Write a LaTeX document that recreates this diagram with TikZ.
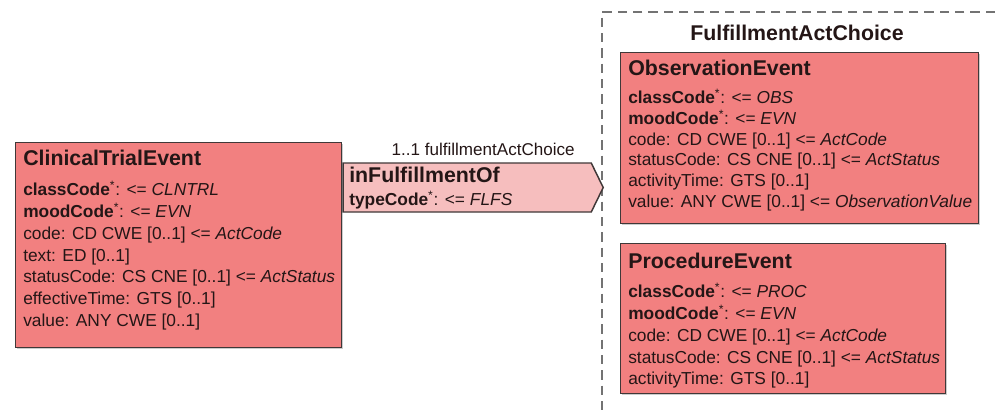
\documentclass[tikz,border=0pt]{standalone}
\usepackage{fontspec}
\setmainfont{Liberation Sans}
\usetikzlibrary{positioning}
\usetikzlibrary{shapes.symbols,shadows}
\definecolor{rimRed}{RGB}{242,128,128}
\definecolor{rimPink}{RGB}{246,190,190}
\definecolor{rimLine}{RGB}{64,56,56}
\definecolor{rimText}{RGB}{36,22,22}
\newcommand{\keyAttr}[2]{\textbf{#1}\textsuperscript{*}: <= \textit{#2}}
\tikzset{
    classBox/.style={draw=rimLine, fill=rimRed, line width=1.1pt, anchor=north west, inner sep=0pt,
		drop shadow={shadow xshift=0.8pt, shadow yshift=-0.8pt, fill=black!40}},
    classTitle/.style={anchor=base west, inner sep=0pt, text=rimText, font=\fontsize{16}{19}\selectfont\bfseries},
    classBody/.style={anchor=north west, inner sep=0pt, text=rimText, align=left, font=\fontsize{13}{16.4}\selectfont},
    linkShape/.style={shape=signal, signal to=east, signal pointer angle=128, draw=rimLine, fill=rimPink,
		line width=1.1pt, inner sep=0pt, anchor=west},
    groupFrame/.style={draw=black!55, line width=1.1pt, dash pattern=on 7pt off 4.5pt}
}
\begin{document}
\begin{tikzpicture}[x=0.75pt,y=-0.75pt]
	\useasboundingbox (0,0) rectangle (995,411);
	% choice group
	\coordinate (groupTop) at (995,12);
	\coordinate (groupCorner) at (602,12);
	\coordinate (groupFoot) at (602,411);
	\draw[groupFrame] (groupTop) -- (groupCorner) -- (groupFoot);
	\node[classTitle, anchor=base] (choiceTitle) at (797,40) {FulfillmentActChoice};
	% source class
	\node[classBox, minimum width=244.5pt, minimum height=153.75pt] (clinical) at (15,142) {};
	\node[classTitle] (clinicalTitle) at (23,165) {ClinicalTrialEvent};
	\node[classBody] (clinicalBody) at (23,181) {\keyAttr{classCode}{CLNTRL}\\
		\keyAttr{moodCode}{EVN}\\
		code: CD CWE [0..1] <= \textit{ActCode}\\
		text: ED [0..1]\\
		statusCode: CS CNE [0..1] <= \textit{ActStatus}\\
		effectiveTime: GTS [0..1]\\
		value: ANY CWE [0..1]};
	% choice members
	\node[classBox, minimum width=268.5pt, minimum height=128.25pt] (observation) at (620,52) {};
	\node[classTitle] (observationTitle) at (628,75) {ObservationEvent};
	\node[classBody, font=\fontsize{13}{15.6}\selectfont] (observationBody) at (628,89) {\keyAttr{classCode}{OBS}\\
		\keyAttr{moodCode}{EVN}\\
		code: CD CWE [0..1] <= \textit{ActCode}\\
		statusCode: CS CNE [0..1] <= \textit{ActStatus}\\
		activityTime: GTS [0..1]\\
		value: ANY CWE [0..1] <= \textit{ObservationValue}};
	\node[classBox, minimum width=243.75pt, minimum height=112.5pt] (procedure) at (620,243) {};
	\node[classTitle] (procedureTitle) at (628,268) {ProcedureEvent};
	\node[classBody] (procedureBody) at (628,283) {\keyAttr{classCode}{PROC}\\
		\keyAttr{moodCode}{EVN}\\
		code: CD CWE [0..1] <= \textit{ActCode}\\
		statusCode: CS CNE [0..1] <= \textit{ActStatus}\\
		activityTime: GTS [0..1]};
	% act relationship
	\node[linkShape, minimum width=195pt, minimum height=36.75pt] (fulfill) at (clinical.east |- 0,187.5) {};
	\node[classTitle] (fulfillTitle) at (349,182) {inFulfillmentOf};
	\node[classBody, anchor=base west] (fulfillBody) at (349,205) {\keyAttr{typeCode}{FLFS}};
	\node[classBody, anchor=base east, font=\fontsize{12.8}{15}\selectfont] (fulfillRole) at (575,155) {1..1 fulfillmentActChoice};
\end{tikzpicture}
\end{document}
